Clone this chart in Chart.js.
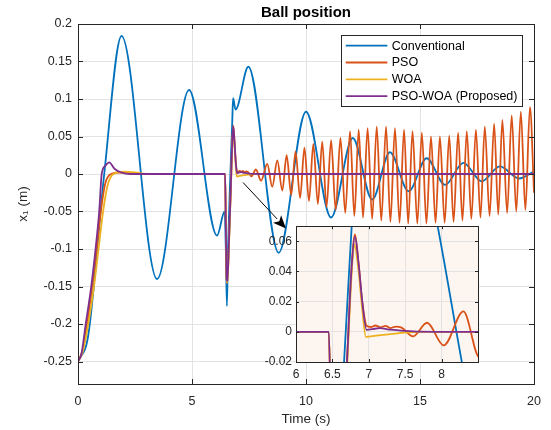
<!DOCTYPE html>
<html><head><meta charset="utf-8">
<script src="https://cdn.jsdelivr.net/npm/chart.js@4.4.1/dist/chart.umd.min.js"></script>
<style>
html,body{margin:0;padding:0;background:#fff;}
#wrap{position:relative;width:551px;height:430px;overflow:hidden;}
#main{position:absolute;left:0;top:0;}
#inset{position:absolute;left:256px;top:215px;}
</style></head><body>
<div id="wrap"><canvas id="main" width="551" height="430"></canvas><canvas id="inset" width="226" height="170"></canvas></div>
<script>
// ---------------- data ----------------
const seriesNames = ['Conventional', 'PSO', 'WOA', 'PSO-WOA (Proposed)'];
const seriesColors = ['#0072BD', '#D95319', '#EDB120', '#7E2F8E'];

const convT = [0,0.45,1.15,1.91,3.47,4.87,6.10,6.43,6.49,6.53,6.58,6.66,6.765,6.80,6.91,7.47,8.80,10.0,11.1,12.05,12.9,13.68,14.5,15.29,16.1,16.9,17.7,18.5,19.34,20];
const convY = [-0.25,-0.215,0.0,0.184,-0.140,0.112,-0.082,-0.05,-0.11,-0.176,-0.10,-0.02,0.07,0.101,0.086,0.143,-0.105,0.083,-0.058,0.048,-0.034,0.029,-0.023,0.021,-0.0145,0.0148,-0.0097,0.0102,-0.006,0.0036];

const psoT = [0,0.2,0.4,0.62,0.82,1.0,1.2,1.45,1.8,2.3,2.8,6.45,6.48,6.52,6.55,6.62,6.70,6.76,6.81,6.86,6.91,6.97,7.03,7.09,7.16,7.23,7.30,7.37,7.45,7.61,7.80,8.03,8.30,8.52,8.74,8.96,9.15,9.35,9.54,9.74,9.93,10.13,10.32,10.52,10.71,10.9,11.1,11.3,11.51,11.72,11.93,12.12,12.31,12.5,12.7,12.9,13.1,13.3,13.51,13.7,13.9,14.1,14.3,14.48,14.67,14.88,15.08,15.28,15.48,15.68,15.87,16.08,16.28,16.47,16.67,16.86,17.05,17.25,17.45,17.65,17.84,18.05,18.25,18.43,18.61,18.82,19.02,19.22,19.42,19.62,19.82,20];
const psoY = [-0.25,-0.235,-0.2,-0.15,-0.1,-0.05,-0.012,0,0.002,0.001,0,0,-0.06,-0.14,-0.145,-0.09,-0.02,0.04,0.0645,0.045,0.02,0.004,0.0032,0.0042,0.003,0.004,0.0025,0.0035,0.0028,-0.003,0.006,-0.009,0.0135,-0.017,0.018,-0.022,0.025,-0.028,0.030,-0.032,0.035,-0.036,0.040,-0.040,0.043,-0.044,0.045,-0.048,0.048,-0.052,0.057,-0.056,0.059,-0.058,0.061,-0.060,0.063,-0.062,0.063,-0.064,0.061,-0.065,0.059,-0.066,0.057,-0.066,0.055,-0.066,0.050,-0.065,0.050,-0.065,0.051,-0.064,0.055,-0.062,0.057,-0.060,0.059,-0.058,0.063,-0.056,0.067,-0.054,0.072,-0.052,0.078,-0.050,0.083,-0.048,0.089,-0.025];

const woaT = [0,0.2,0.45,0.7,0.9,1.1,1.3,1.55,2.0,2.5,3.0,6.45,6.48,6.52,6.55,6.62,6.70,6.76,6.80,6.86,6.91,6.96,7.1,7.3,7.5,7.8,20];
const woaY = [-0.25,-0.238,-0.2,-0.15,-0.1,-0.05,-0.015,0,0.003,0.002,0,0,-0.06,-0.14,-0.145,-0.095,-0.025,0.035,0.058,0.04,0.015,-0.0033,-0.0025,-0.0015,-0.0005,0,0];

const pwT = [0,0.15,0.34,0.58,0.77,0.93,1.04,1.2,1.37,1.6,1.9,2.3,6.45,6.48,6.52,6.55,6.62,6.70,6.76,6.81,6.86,6.91,6.97,7.05,7.15,7.3,7.5,7.7,8.0,20];
const pwY = [-0.25,-0.24,-0.2,-0.15,-0.1,-0.05,0,0.011,0.0156,0.007,0.002,0,0,-0.06,-0.14,-0.143,-0.09,-0.02,0.04,0.063,0.045,0.02,0.0013,0.0018,0.0024,0.0014,0.0006,0.0001,0,0];

const xTicksMain = [0, 5, 10, 15, 20];
const yTicksMain = [-0.25, -0.2, -0.15, -0.1, -0.05, 0, 0.05, 0.1, 0.15, 0.2];
const xTicksInset = [6, 6.5, 7, 7.5, 8];
const yTicksInset = [-0.02, 0, 0.02, 0.04, 0.06];
const arrowFrom = {x: 7.24, y: -0.0114};
const arrowTo = {x: 9.12, y: -0.0726};

// ---------------- helpers ----------------
const FONT = "'Liberation Sans', Arial, Helvetica, sans-serif";
const seriesT = [convT, psoT, woaT, pwT];
const seriesY = [convY, psoY, woaY, pwY];
function makeDatasets() {
  return seriesNames.map((name, i) => ({
    label: name,
    data: seriesT[i].map((t, k) => ({x: t, y: seriesY[i][k]})),
    borderColor: seriesColors[i],
    backgroundColor: seriesColors[i],
    borderWidth: 1.8,
    pointRadius: 0,
    fill: false,
    cubicInterpolationMode: 'monotone',
    order: 4 - i
  }));
}

const boxPlugin = {
  id: 'boxTicks',
  afterDraw(chart, args, opts) {
    const {ctx, chartArea: a} = chart;
    const xs = chart.scales.x, ys = chart.scales.y;
    const L = opts.len || 5;
    ctx.save();
    ctx.strokeStyle = '#262626';
    ctx.lineWidth = 1;
    ctx.beginPath();
    xs.ticks.forEach(t => {
      const px = Math.round(xs.getPixelForValue(t.value)) + 0.5;
      ctx.moveTo(px, a.bottom); ctx.lineTo(px, a.bottom - L);
      ctx.moveTo(px, a.top); ctx.lineTo(px, a.top + L);
    });
    ys.ticks.forEach(t => {
      const py = Math.round(ys.getPixelForValue(t.value)) + 0.5;
      ctx.moveTo(a.left, py); ctx.lineTo(a.left + L, py);
      ctx.moveTo(a.right, py); ctx.lineTo(a.right - L, py);
    });
    ctx.stroke();
    ctx.strokeRect(Math.round(a.left) + 0.5, Math.round(a.top) + 0.5, Math.round(a.right - a.left), Math.round(a.bottom - a.top));
    ctx.restore();
  }
};

const bgPlugin = {
  id: 'areaBg',
  beforeDraw(chart, args, opts) {
    if (!opts.color) return;
    const {ctx, chartArea: a} = chart;
    ctx.save();
    ctx.fillStyle = opts.color;
    ctx.fillRect(a.left, a.top, a.right - a.left, a.bottom - a.top);
    ctx.restore();
  }
};

const legendPlugin = {
  id: 'boxLegend',
  afterDraw(chart, args, opts) {
    if (!opts.show) return;
    const {ctx, chartArea: a} = chart;
    const w = 181, h = 71;
    const x0 = a.right - 12 - w, y0 = a.top + 11;
    ctx.save();
    ctx.fillStyle = '#fff';
    ctx.fillRect(x0, y0, w, h);
    ctx.strokeStyle = '#262626';
    ctx.lineWidth = 1;
    ctx.strokeRect(Math.round(x0) + 0.5, Math.round(y0) + 0.5, w, h);
    ctx.font = '12.5px ' + FONT;
    ctx.textBaseline = 'middle';
    ctx.textAlign = 'left';
    chart.data.datasets.forEach((ds, i) => {
      const y = y0 + 10.7 + i * 16.8;
      ctx.strokeStyle = ds.borderColor;
      ctx.lineWidth = 1.8;
      ctx.beginPath(); ctx.moveTo(x0 + 4.7, y); ctx.lineTo(x0 + 46.3, y); ctx.stroke();
      ctx.fillStyle = '#000';
      ctx.fillText(ds.label, x0 + 50.7, y + 0.5);
    });
    ctx.restore();
  }
};

const arrowPlugin = {
  id: 'arrow',
  afterDatasetsDraw(chart, args, opts) {
    if (!opts.show) return;
    const {ctx} = chart;
    const xs = chart.scales.x, ys = chart.scales.y;
    const x1 = xs.getPixelForValue(arrowFrom.x), y1 = ys.getPixelForValue(arrowFrom.y);
    const x2 = xs.getPixelForValue(arrowTo.x), y2 = ys.getPixelForValue(arrowTo.y);
    const ang = Math.atan2(y2 - y1, x2 - x1);
    const hl = 13, hw = 5.5;
    const c = Math.cos(ang), s = Math.sin(ang);
    ctx.save();
    ctx.strokeStyle = '#000'; ctx.fillStyle = '#000'; ctx.lineWidth = 1;
    ctx.beginPath(); ctx.moveTo(x1, y1);
    ctx.lineTo(x2 - hl * c, y2 - hl * s); ctx.stroke();
    ctx.beginPath();
    ctx.moveTo(x2, y2);
    ctx.lineTo(x2 - hl * c + hw * s, y2 - hl * s - hw * c);
    ctx.lineTo(x2 - 0.75 * hl * c, y2 - 0.75 * hl * s);
    ctx.lineTo(x2 - hl * c - hw * s, y2 - hl * s + hw * c);
    ctx.closePath(); ctx.fill();
    ctx.restore();
  }
};

Chart.register(boxPlugin, bgPlugin, legendPlugin, arrowPlugin);
Chart.defaults.font.family = FONT;
Chart.defaults.color = '#262626';

const fmt = v => String(v);
const gridCol = '#e3e3e3';

// ---------------- main chart ----------------
new Chart(document.getElementById('main'), {
  type: 'line',
  data: {datasets: makeDatasets()},
  options: {
    responsive: false, animation: false, events: [],
    layout: {padding: {top: 0, right: 16, bottom: 0, left: 0}},
    plugins: {
      legend: {display: false},
      tooltip: {enabled: false},
      title: {display: true, text: 'Ball position', fullSize: false, color: '#000',
              font: {size: 15, weight: 'bold', family: FONT, lineHeight: 1.2}, padding: {top: 3.5, bottom: 2.5}},
      boxTicks: {len: 5},
      boxLegend: {show: true},
      arrow: {show: true}
    },
    scales: {
      x: {type: 'linear', min: 0, max: 20,
          afterBuildTicks: s => { s.ticks = xTicksMain.map(v => ({value: v})); },
          afterFit: s => { s.height = 46; },
          ticks: {callback: fmt, font: {size: 12.5}, padding: 10, maxRotation: 0, color: '#262626'},
          grid: {color: gridCol, drawTicks: false},
          border: {display: false},
          title: {display: true, text: 'Time (s)', font: {size: 13.5}, color: '#262626', padding: {top: 0, bottom: 3}}},
      y: {type: 'linear', min: -0.28, max: 0.2,
          afterBuildTicks: s => { s.ticks = yTicksMain.map(v => ({value: v})); },
          afterFit: s => { s.width = 78; },
          ticks: {callback: fmt, font: {size: 12.5}, padding: 6, color: '#262626'},
          grid: {color: gridCol, drawTicks: false},
          border: {display: false},
          title: {display: true, text: 'x\u2081 (m)', font: {size: 13.5}, color: '#262626', padding: {top: 15, bottom: 0}}}
    }
  }
});

// ---------------- inset chart ----------------
new Chart(document.getElementById('inset'), {
  type: 'line',
  data: {datasets: makeDatasets()},
  options: {
    responsive: false, animation: false, events: [],
    layout: {padding: {top: 10, right: 4, bottom: 0, left: 0}},
    plugins: {
      legend: {display: false}, tooltip: {enabled: false}, title: {display: false},
      areaBg: {color: '#fdf5ef'},
      boxTicks: {len: 3},
      boxLegend: {show: false},
      arrow: {show: false}
    },
    scales: {
      x: {type: 'linear', min: 6, max: 8.5,
          afterBuildTicks: s => { s.ticks = xTicksInset.map(v => ({value: v})); },
          afterFit: s => { s.height = 23; },
          ticks: {callback: fmt, font: {size: 12}, padding: 5, maxRotation: 0, color: '#262626'},
          grid: {color: gridCol, drawTicks: false},
          border: {display: false}},
      y: {type: 'linear', min: -0.02, max: 0.07,
          afterBuildTicks: s => { s.ticks = yTicksInset.map(v => ({value: v})); },
          afterFit: s => { s.width = 40; },
          ticks: {callback: fmt, font: {size: 12}, padding: 4, color: '#262626'},
          grid: {color: gridCol, drawTicks: false},
          border: {display: false}}
    }
  }
});
</script>
</body></html>
